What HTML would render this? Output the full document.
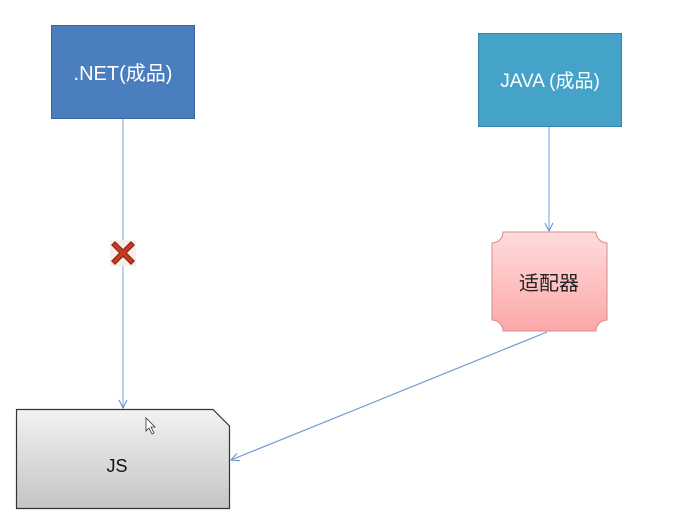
<!DOCTYPE html>
<html><head><meta charset="utf-8"><style>
body{margin:0;background:#fff;width:675px;height:527px;overflow:hidden}
</style></head><body>
<svg width="675" height="527" viewBox="0 0 675 527" xmlns="http://www.w3.org/2000/svg">
<defs>
<linearGradient id="g1" x1="0" y1="0" x2="0" y2="1"><stop offset="0" stop-color="#f2f2f2"/><stop offset="1" stop-color="#c4c4c4"/></linearGradient>
<linearGradient id="g2" x1="0" y1="0" x2="0" y2="1"><stop offset="0" stop-color="#ffdcdc"/><stop offset="1" stop-color="#fca8a8"/></linearGradient>
<marker id="a" markerWidth="10" markerHeight="10" refX="9" refY="5" orient="auto" markerUnits="userSpaceOnUse"><path d="M1,1 L9,5 L1,9" fill="none" stroke="#5b8fd0" stroke-width="1"/></marker>
</defs>
<rect x="51.5" y="25.5" width="143" height="93" fill="#4a7ebf" stroke="#3a669f"/>
<text x="123" y="80" font-family="Liberation Sans, Noto Sans CJK SC, sans-serif" font-size="20" fill="#fff" text-anchor="middle">.NET(成品)</text>
<rect x="478.5" y="33.5" width="143" height="93" fill="#45a3c9" stroke="#3585a8"/>
<text x="550" y="87" font-family="Liberation Sans, Noto Sans CJK SC, sans-serif" font-size="19" fill="#fff" text-anchor="middle">JAVA (成品)</text>
<line x1="123" y1="119" x2="123" y2="408" stroke="#8fb0dd" stroke-width="1.2" marker-end="url(#a)"/>
<line x1="549" y1="127" x2="549" y2="231" stroke="#8fb0dd" stroke-width="1.2" marker-end="url(#a)"/>
<line x1="547" y1="332" x2="231" y2="460" stroke="#6f9bd6" stroke-width="1.2" marker-end="url(#a)"/>
<path d="M503,232 H596 A11,11 0 0 0 607,243 V320 A11,11 0 0 0 596,331 H503 A11,11 0 0 0 492,320 V243 A11,11 0 0 0 503,232 Z" fill="url(#g2)" stroke="#d88a8a"/>
<text x="549" y="290" font-family="Noto Sans CJK SC, sans-serif" font-size="20" fill="#222" text-anchor="middle">适配器</text>
<path d="M16.5,409.5 H213 L229.5,426 V508.5 H16.5 Z" fill="url(#g1)" stroke="#333" stroke-width="1.2"/>
<text x="117" y="472" font-family="Liberation Sans, sans-serif" font-size="18" fill="#111" text-anchor="middle">JS</text>
<path d="M146,418 V431 L149,428 L152,434 L154,433 L151,427 H155 Z" fill="#fff" stroke="#333" stroke-width="0.8"/>
<g transform="translate(123,253)">
<rect x="-13" y="-13" width="26" height="26" fill="#f6eee8"/>
<path d="M-11,-8 L-8,-11 L0,-3 L8,-11 L11,-8 L3,0 L11,8 L8,11 L0,3 L-8,11 L-11,8 L-3,0 Z" fill="#c83a22" stroke="#9a2a18" stroke-width="1.5" stroke-linejoin="round"/>
</g>
</svg>
</body></html>
